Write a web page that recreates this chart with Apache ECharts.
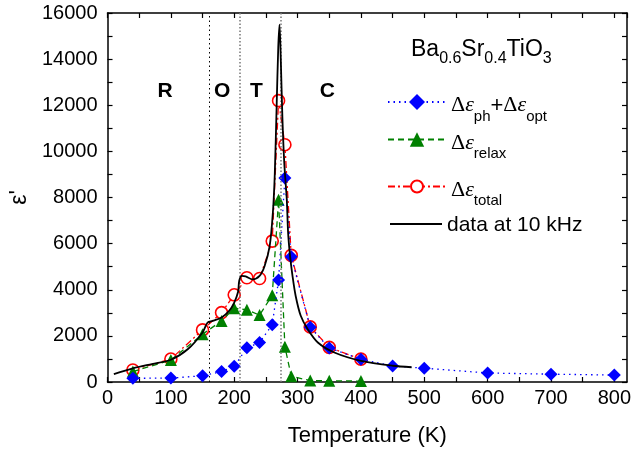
<!DOCTYPE html>
<html>
<head>
<meta charset="utf-8">
<script src="https://cdn.jsdelivr.net/npm/echarts@6/dist/echarts.min.js"></script>
<style>
html, body { margin: 0; padding: 0; background: #fff; }
#chart { width: 642px; height: 452px; }
</style>
</head>
<body>
<div id="chart"></div>
<script>
// phonon + optical contribution (blue diamonds)
var phT = [40, 100, 150, 180, 200, 220, 240, 260, 270, 280, 290, 320, 350, 400, 450, 500, 600, 700, 800];
var phV = [160, 170, 270, 450, 680, 1480, 1710, 2480, 4420, 8850, 5430, 2370, 1470, 990, 690, 600, 390, 340, 300];
// relaxation contribution (green triangles)
var relaxT = [40, 100, 150, 180, 200, 220, 240, 260, 270, 280, 290, 320, 350, 400];
var relaxV = [450, 950, 2070, 2650, 3200, 3130, 2900, 3760, 7900, 1530, 250, 60, 50, 40];
// total (red circles)
var totalT = [40, 100, 150, 180, 200, 220, 240, 260, 270, 280, 290, 320, 350, 400];
var totalV = [520, 995, 2260, 3010, 3780, 4520, 4490, 6110, 12200, 10290, 5490, 2390, 1500, 990];
// measured permittivity at 10 kHz (black line)
var dataT = [10, 40, 70, 100, 127, 150, 158, 166, 180, 192, 200, 206, 208, 212, 218, 229, 240, 248, 256, 261, 264, 267, 269.5, 271.5, 273.5, 276, 279, 283, 285, 288, 292, 297, 305, 316, 332, 358, 400, 450, 480];
var dataV = [345, 590, 780, 965, 1430, 2150, 2580, 2650, 2800, 3085, 3445, 3900, 4400, 4600, 4580, 4450, 4600, 5030, 5900, 7340, 9000, 12000, 14500, 15500, 14000, 11500, 9500, 7900, 6500, 5500, 4600, 3730, 2870, 2290, 1715, 1280, 920, 705, 640];
// phase boundaries and phase names
var boundT = [161, 209, 273];
var phaseNames = ['R', 'O', 'T', 'C'];
var phaseT = [91, 181, 235, 347];
var phaseY = [12620, 12620, 12620, 12620];

function pairs(xs, ys) {
    var out = [];
    for (var i = 0; i < xs.length; i++) out.push([xs[i], ys[i]]);
    return out;
}

var chart = echarts.init(document.getElementById('chart'));

var sans = 'Liberation Sans';
var rich = {
    d: { fontFamily: 'Liberation Serif', fontSize: 22, color: '#000', padding: [7, 0, 0, 0] },
    e: { fontFamily: 'Liberation Serif', fontStyle: 'italic', fontSize: 22, color: '#000', padding: [7, 0, 0, 0] },
    s: { fontFamily: sans, fontSize: 15, color: '#000', padding: [29, 0, 0, 0] },
    p: { fontFamily: sans, fontSize: 22, color: '#000', padding: [7, 0, 0, 0] },
    q: { fontFamily: sans, fontSize: 21, color: '#000', padding: [3, 0, 0, 0] }
};
var legendText = {
    'ph': '{d|Δ}{e|ε}{s|ph}{p|+}{d|Δ}{e|ε}{s|opt}',
    'relax': '{d|Δ}{e|ε}{s|relax}',
    'total': '{d|Δ}{e|ε}{s|total}',
    'data at 10 kHz': '{q|data at 10 kHz}'
};
function legendFor(name, left, top, w, h, icon) {
    var lg = {
        data: [name],
        left: left,
        top: top,
        orient: 'vertical',
        itemWidth: w,
        itemHeight: h,
        selectedMode: false,
        padding: 0,
        formatter: function (n) { return legendText[n]; },
        textStyle: { rich: rich, fontFamily: sans, fontSize: 21, color: '#000' }
    };
    if (icon) lg.icon = icon;
    return lg;
}

var axisLine = { show: true, onZero: false, lineStyle: { color: '#000', width: 1.5 } };
var tickStyle = { show: true, inside: true, length: 5, lineStyle: { color: '#000', width: 1.2 } };

var option = {
    animation: false,
    backgroundColor: '#fff',
    title: {
        text: '{m|Ba}{s|0.6}{m|Sr}{s|0.4}{m|TiO}{s|3}',
        left: 411,
        top: 33,
        padding: 0,
        textStyle: {
            fontWeight: 'normal',
            rich: {
                m: { fontFamily: sans, fontSize: 23, fontWeight: 'normal', color: '#000' },
                s: { fontFamily: sans, fontSize: 16, fontWeight: 'normal', color: '#000', padding: [18, 0, 0, 0] }
            }
        }
    },
    legend: [
        legendFor('ph', 387, 94, 58, 20),
        legendFor('relax', 387, 132, 58, 18),
        legendFor('total', 387, 179, 58, 15),
        legendFor('data at 10 kHz', 390, 215, 52, 2, 'rect')
    ],
    grid: { left: 106, right: 15, top: 13, bottom: 69 },
    xAxis: [
        {
            type: 'value',
            min: 0,
            max: 820,
            interval: 50,
            name: 'Temperature (K)',
            nameLocation: 'middle',
            nameGap: 43,
            nameTextStyle: { fontFamily: sans, fontSize: 22, color: '#000' },
            axisLine: axisLine,
            axisTick: tickStyle,
            splitLine: { show: false },
            axisLabel: {
                margin: 6,
                fontFamily: sans,
                fontSize: 20,
                color: '#000',
                showMaxLabel: false,
                formatter: function (v) { return (v % 100 === 0 && v <= 800) ? String(v) : ''; }
            }
        },
        {
            type: 'value',
            position: 'top',
            min: 0,
            max: 820,
            interval: 50,
            axisLine: axisLine,
            axisTick: tickStyle,
            axisLabel: { show: false },
            splitLine: { show: false }
        }
    ],
    yAxis: [
        {
            type: 'value',
            min: 0,
            max: 16000,
            interval: 1000,
            name: "ε'",
            nameLocation: 'middle',
            nameRotate: 90,
            nameGap: 72,
            nameTextStyle: { fontFamily: sans, fontSize: 23, color: '#000' },
            axisLine: axisLine,
            axisTick: tickStyle,
            splitLine: { show: false },
            axisLabel: {
                margin: 10,
                fontFamily: sans,
                fontSize: 20,
                color: '#000',
                formatter: function (v) { return v % 2000 === 0 ? String(v) : ''; }
            }
        },
        {
            type: 'value',
            position: 'right',
            min: 0,
            max: 16000,
            interval: 1000,
            axisLine: axisLine,
            axisTick: tickStyle,
            axisLabel: { show: false },
            splitLine: { show: false }
        }
    ],
    series: [
        {
            name: 'total',
            type: 'line',
            z: 2,
            data: pairs(totalT, totalV),
            symbol: 'circle',
            symbolSize: 12,
            itemStyle: { color: '#fff', borderColor: '#ff0000', borderWidth: 1.6 },
            lineStyle: { color: '#ff0000', width: 1.3, type: [7, 3, 2, 3] }
        },
        {
            name: 'relax',
            type: 'line',
            z: 3,
            data: pairs(relaxT, relaxV),
            symbol: 'triangle',
            symbolSize: 12,
            itemStyle: { color: '#008000' },
            lineStyle: { color: '#008000', width: 1.3, type: [6, 4] }
        },
        {
            name: 'ph',
            type: 'line',
            z: 4,
            data: pairs(phT, phV),
            symbol: 'diamond',
            symbolSize: 13,
            itemStyle: { color: '#0000ff' },
            lineStyle: { color: '#0000ff', width: 1.3, type: [1.5, 4] }
        },
        {
            name: 'data at 10 kHz',
            type: 'line',
            z: 5,
            data: pairs(dataT, dataV),
            symbol: 'none',
            smooth: 0.3,
            itemStyle: { color: '#000' },
            lineStyle: { color: '#000', width: 1.8 },
            markLine: {
                silent: true,
                symbol: 'none',
                label: { show: false },
                data: boundT.map(function (t, i) {
                    return {
                        xAxis: t,
                        lineStyle: i === 0 ? { color: '#000', width: 1, type: [1.5, 3] }
                                           : { color: '#777', width: 1.5, type: [1.5, 2] }
                    };
                })
            }
        },
        {
            name: 'phases',
            type: 'scatter',
            silent: true,
            z: 6,
            symbolSize: 1,
            itemStyle: { color: 'rgba(0,0,0,0)', opacity: 1 },
            data: phaseNames.map(function (n, i) { return { value: [phaseT[i], phaseY[i]], name: n }; }),
            label: {
                show: true,
                position: 'inside',
                formatter: function (p) { return p.name; },
                fontFamily: sans,
                fontWeight: 'bold',
                fontSize: 21,
                color: '#000',
                opacity: 1
            }
        }
    ]
};

chart.setOption(option);
</script>
</body>
</html>
